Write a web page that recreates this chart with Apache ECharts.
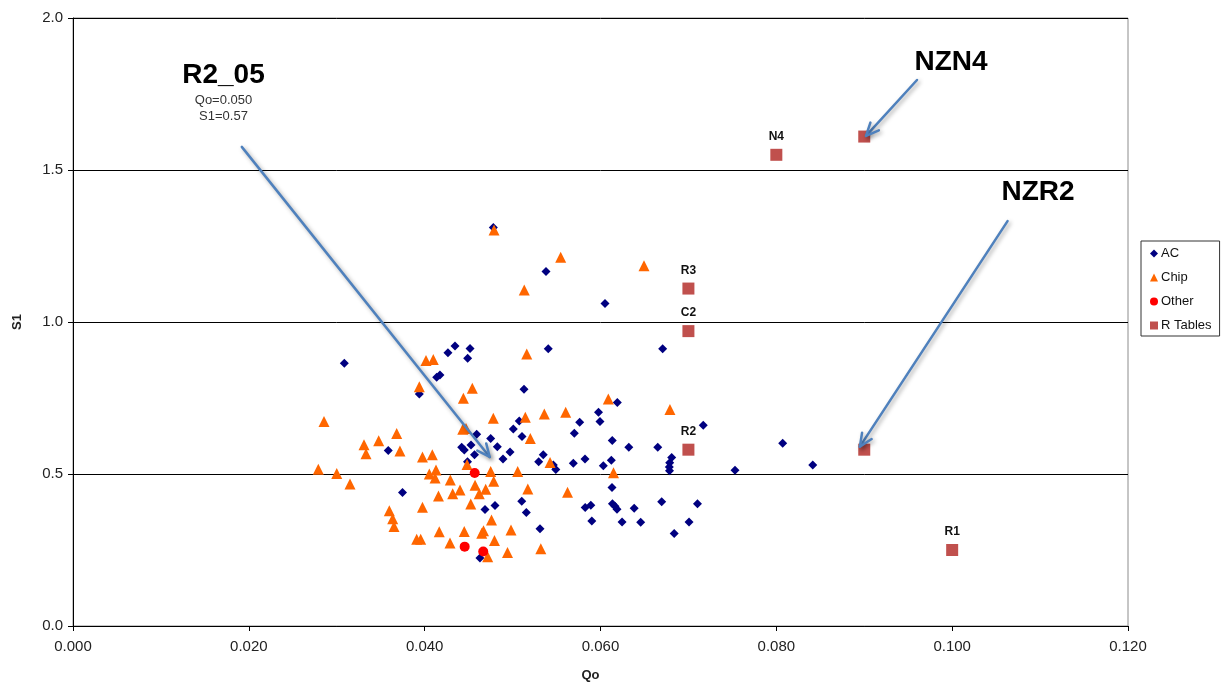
<!DOCTYPE html>
<html>
<head>
<meta charset="utf-8">
<script src="https://cdn.jsdelivr.net/npm/echarts@6/dist/echarts.min.js"></script>
<style>
  html, body { margin: 0; padding: 0; background: #ffffff; }
  #chart { width: 1223px; height: 683px; }
</style>
</head>
<body>
<div id="chart"></div>
<script>
// ---- data: [Qo, S1] ----
const acPoints = [
  [0.03086, 0.864], [0.03939, 0.763], [0.03586, 0.577], [0.03748, 0.439],
  [0.04345, 0.921], [0.04265, 0.899], [0.04516, 0.913], [0.04489, 0.881],
  [0.04174, 0.826], [0.04137, 0.818], [0.04592, 0.631], [0.04421, 0.588],
  [0.04451, 0.579], [0.04527, 0.595], [0.04751, 0.617], [0.04826, 0.590],
  [0.04567, 0.563], [0.04891, 0.549], [0.04971, 0.572], [0.04487, 0.540],
  [0.04686, 0.383], [0.04800, 0.396], [0.04629, 0.224], [0.05008, 0.648],
  [0.05076, 0.674], [0.05130, 0.779], [0.05107, 0.623], [0.05104, 0.410],
  [0.05156, 0.373], [0.04781, 1.311], [0.05380, 1.166], [0.06051, 1.061],
  [0.05406, 0.912], [0.06707, 0.912], [0.06191, 0.735], [0.05977, 0.703],
  [0.05994, 0.673], [0.05763, 0.670], [0.05702, 0.634], [0.07169, 0.660],
  [0.06134, 0.610], [0.06322, 0.588], [0.06651, 0.588], [0.05349, 0.563],
  [0.05297, 0.540], [0.05463, 0.530], [0.05492, 0.515], [0.05691, 0.535],
  [0.05824, 0.549], [0.06032, 0.527], [0.06123, 0.545], [0.06810, 0.554],
  [0.06787, 0.537], [0.06783, 0.523], [0.06785, 0.511], [0.07530, 0.512],
  [0.08072, 0.601], [0.08414, 0.530], [0.06131, 0.456], [0.05826, 0.390],
  [0.05890, 0.397], [0.06136, 0.402], [0.06165, 0.394], [0.06188, 0.384],
  [0.06383, 0.387], [0.06696, 0.409], [0.07103, 0.402], [0.05901, 0.345],
  [0.06245, 0.342], [0.06457, 0.341], [0.07007, 0.342], [0.06838, 0.304],
  [0.05312, 0.320]
];

const chipPoints = [
  [0.04015, 0.873], [0.04098, 0.877], [0.03939, 0.787], [0.04542, 0.782],
  [0.04440, 0.749], [0.04781, 0.683], [0.04433, 0.647], [0.04470, 0.650],
  [0.02855, 0.673], [0.03682, 0.633], [0.03477, 0.609], [0.03310, 0.596],
  [0.03333, 0.567], [0.03719, 0.576], [0.03975, 0.556], [0.04087, 0.563],
  [0.02790, 0.516], [0.03000, 0.502], [0.03151, 0.467], [0.04053, 0.500],
  [0.04129, 0.513], [0.04118, 0.487], [0.04292, 0.480], [0.04402, 0.447],
  [0.04319, 0.435], [0.04157, 0.428], [0.04482, 0.531], [0.04573, 0.463],
  [0.04621, 0.435], [0.04694, 0.450], [0.04751, 0.508], [0.04785, 0.476],
  [0.05058, 0.508], [0.04524, 0.401], [0.03975, 0.391], [0.03598, 0.379],
  [0.03636, 0.353], [0.03651, 0.327], [0.04760, 0.349], [0.04982, 0.316],
  [0.04166, 0.310], [0.04450, 0.311], [0.04669, 0.313], [0.04649, 0.305],
  [0.03909, 0.285], [0.03955, 0.285], [0.04288, 0.273], [0.04794, 0.281],
  [0.04942, 0.242], [0.04717, 0.228], [0.04789, 1.303], [0.05547, 1.213],
  [0.06495, 1.185], [0.05133, 1.105], [0.05161, 0.895], [0.06089, 0.747],
  [0.06790, 0.712], [0.05145, 0.687], [0.05361, 0.697], [0.05604, 0.703],
  [0.05202, 0.617], [0.05426, 0.538], [0.06148, 0.504], [0.05173, 0.451],
  [0.05625, 0.440], [0.05321, 0.254]
];

const otherPoints = [
  [0.04569, 0.503], [0.04455, 0.261], [0.04666, 0.245]
];

const rTableNames = ['R1', 'R2', 'C2', 'R3', 'N4', 'NZN4', 'NZR2'];
const rTableQo    = [0.100, 0.070, 0.070, 0.070, 0.080, 0.090, 0.090];
const rTableS1    = [0.25, 0.58, 0.97, 1.11, 1.55, 1.61, 0.58];

// tables that get a large callout instead of a small point label
const calloutNames  = ['R2_05', 'NZN4', 'NZR2'];
const calloutNotes  = [['Qo=0.050', 'S1=0.57'], [], []];
const calloutAnchor = [[0.01712, 1.812], [0.09987, 1.855], [0.10976, 1.426]];

// arrows: [fromQo, fromS1, toQo, toS1]
const arrows = [
  [0.0192, 1.576, 0.0474, 0.556],
  [0.0960, 1.796, 0.0902, 1.612],
  [0.1063, 1.332, 0.0895, 0.590]
];

const xTicks = { min: 0, max: 0.12, interval: 0.02 };
const yTicks = { min: 0, max: 2.0, interval: 0.5 };

// ---- chart ----
const FONT = '"Liberation Sans", Arial, sans-serif';
const chart = echarts.init(document.getElementById('chart'), null, { renderer: 'canvas' });

const rTableData = rTableNames.map((n, i) => ({ name: n, value: [rTableQo[i], rTableS1[i]] }));
const calloutData = calloutNames.map((n, i) => ({ name: n, value: [calloutAnchor[i][0], calloutAnchor[i][1], i] }));

const arrowColor = '#4F81BD';

const option = {
  backgroundColor: '#ffffff',
  animation: false,
  textStyle: { fontFamily: FONT },
  grid: {
    left: 73, right: 95, top: 18, bottom: 57,
    outerBoundsMode: 'none', containLabel: false,
    show: true, borderColor: '#8c8c8c', borderWidth: 1, backgroundColor: 'transparent'
  },
  legend: {
    orient: 'vertical',
    left: 1141, top: 241,
    padding: [6, 8, 4, 9],
    itemWidth: 8, itemHeight: 8, itemGap: 11,
    borderColor: '#333', borderWidth: 1,
    textStyle: { fontFamily: FONT, fontSize: 13, color: '#111', padding: [0, 0, 0, -2] },
    data: [
      { name: 'AC', icon: 'diamond' },
      { name: 'Chip', icon: 'triangle' },
      { name: 'Other', icon: 'circle' },
      { name: 'R Tables', icon: 'rect' }
    ]
  },
  xAxis: {
    type: 'value',
    min: xTicks.min, max: xTicks.max, interval: xTicks.interval,
    name: 'Qo', nameLocation: 'middle', nameGap: 43,
    nameTextStyle: { fontFamily: FONT, fontSize: 13, fontWeight: 'bold', color: '#222', padding: [0, 20, 0, 0] },
    axisLine: { show: true, onZero: false, lineStyle: { color: '#000', width: 1 } },
    axisTick: { show: true, inside: false, length: 5, lineStyle: { color: '#000' } },
    axisLabel: { fontFamily: FONT, fontSize: 15, color: '#222', margin: 13,
      formatter: v => v.toFixed(3) },
    splitLine: { show: false }
  },
  yAxis: {
    type: 'value',
    min: yTicks.min, max: yTicks.max, interval: yTicks.interval,
    name: 'S1', nameLocation: 'middle', nameGap: 49, nameRotate: 90,
    nameTextStyle: { fontFamily: FONT, fontSize: 13, fontWeight: 'bold', color: '#222' },
    axisLine: { show: true, onZero: false, lineStyle: { color: '#000', width: 1 } },
    axisTick: { show: true, inside: false, length: 5, lineStyle: { color: '#000' } },
    axisLabel: { fontFamily: FONT, fontSize: 15, color: '#222', margin: 10,
      formatter: v => v.toFixed(1) },
    splitLine: { show: true, lineStyle: { color: '#000', width: 1 } }
  },
  series: [
    {
      name: 'AC', type: 'scatter', data: acPoints,
      symbol: 'diamond', symbolSize: 9,
      itemStyle: { color: '#000080', opacity: 1 }, z: 3
    },
    {
      name: 'Chip', type: 'scatter', data: chipPoints,
      symbol: 'triangle', symbolSize: 11,
      itemStyle: { color: '#FF6600', opacity: 1 }, z: 4
    },
    {
      name: 'Other', type: 'scatter', data: otherPoints,
      symbol: 'circle', symbolSize: 10,
      itemStyle: { color: '#FF0000', opacity: 1 }, z: 5
    },
    {
      name: 'R Tables', type: 'scatter', data: rTableData,
      symbol: 'rect', symbolSize: 12,
      itemStyle: { color: '#C0504D', opacity: 1 }, z: 5,
      label: {
        show: true, position: 'top', distance: 6,
        fontFamily: FONT, fontSize: 12, fontWeight: 'bold', color: '#111',
        formatter: p => (calloutNames.indexOf(p.name) >= 0 ? '' : p.name)
      }
    },
    {
      name: 'arrows', type: 'custom', data: arrows, z: 6, silent: true,
      encode: { x: [0, 2], y: [1, 3] },
      renderItem: (params, api) => {
        const p1 = api.coord([api.value(0), api.value(1)]);
        const p2 = api.coord([api.value(2), api.value(3)]);
        const ang = Math.atan2(p2[1] - p1[1], p2[0] - p1[0]);
        const L = 14, a = 0.42;
        const h1 = [p2[0] - L * Math.cos(ang - a), p2[1] - L * Math.sin(ang - a)];
        const h2 = [p2[0] - L * Math.cos(ang + a), p2[1] - L * Math.sin(ang + a)];
        const st = {
          stroke: arrowColor, lineWidth: 2.5, fill: null, lineCap: 'round', lineJoin: 'round',
          shadowColor: 'rgba(0,0,0,0.35)', shadowBlur: 4, shadowOffsetX: 2, shadowOffsetY: 2
        };
        return {
          type: 'group',
          children: [
            { type: 'line', shape: { x1: p1[0], y1: p1[1], x2: p2[0], y2: p2[1] }, style: st },
            { type: 'polyline', shape: { points: [h1, p2, h2] }, style: st }
          ]
        };
      }
    },
    {
      name: 'callouts', type: 'custom', data: calloutData, z: 7, silent: true,
      renderItem: (params, api) => {
        const p = api.coord([api.value(0), api.value(1)]);
        const idx = api.value(2);
        const children = [{
          type: 'text',
          style: {
            text: calloutNames[idx], x: p[0], y: p[1],
            align: 'center', verticalAlign: 'middle',
            font: 'bold 28px ' + FONT, fill: '#000'
          }
        }];
        calloutNotes[idx].forEach((t, j) => {
          children.push({
            type: 'text',
            style: {
              text: t, x: p[0], y: p[1] + 25 + j * 16,
              align: 'center', verticalAlign: 'middle',
              font: '13px ' + FONT, fill: '#333'
            }
          });
        });
        return { type: 'group', children };
      }
    }
  ]
};

chart.setOption(option);
</script>
</body>
</html>
